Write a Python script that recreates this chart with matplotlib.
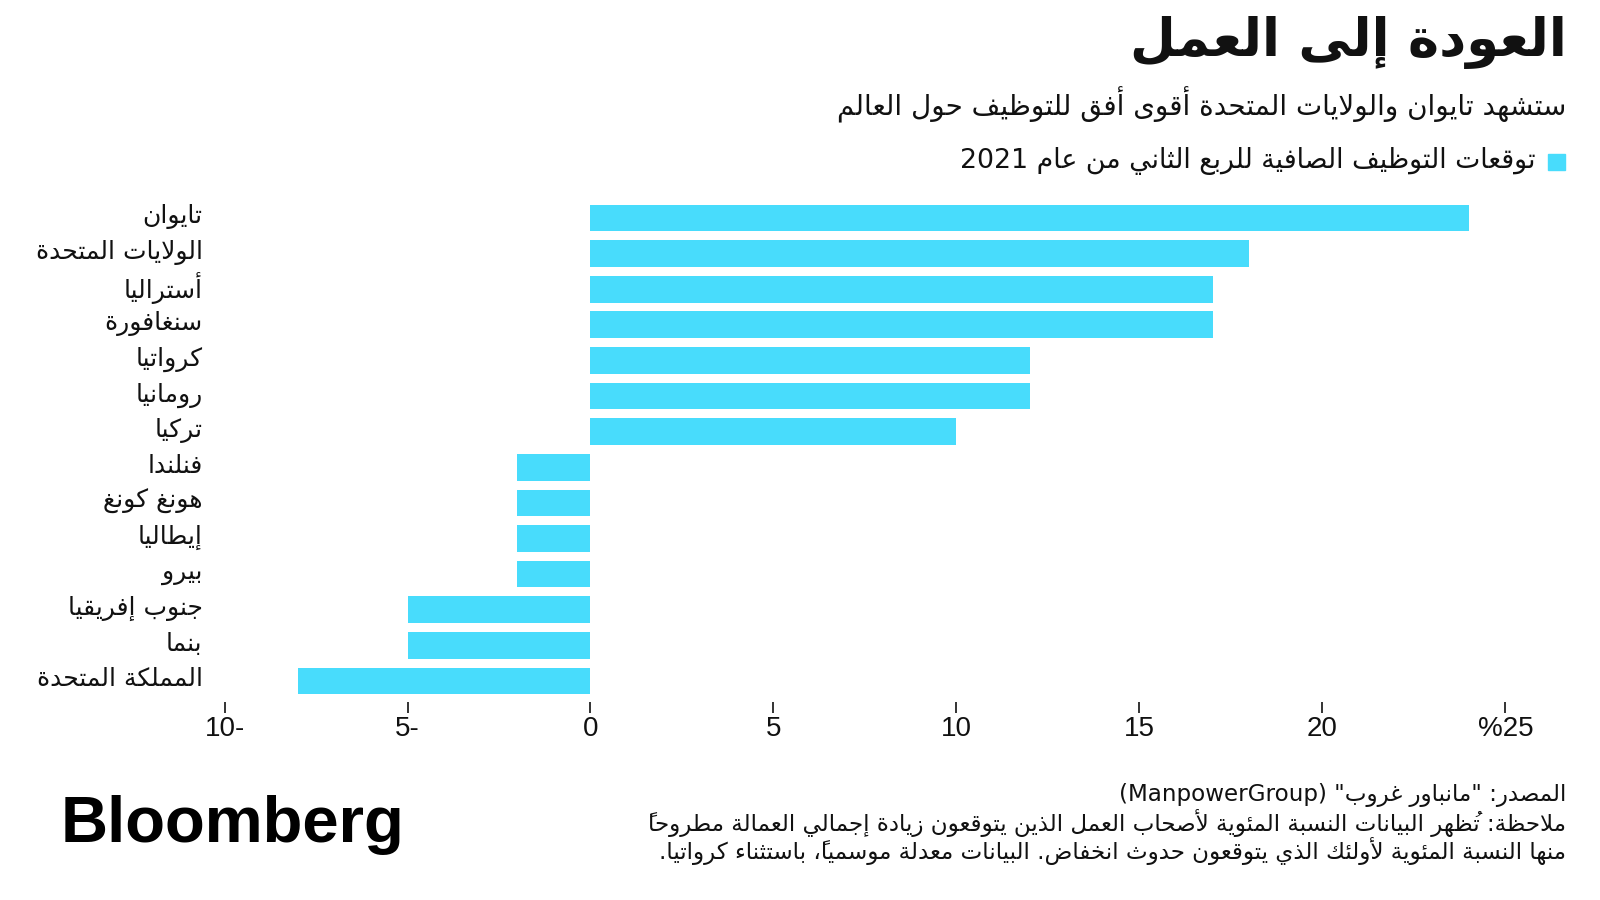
import matplotlib
matplotlib.use('Agg')
import matplotlib.pyplot as plt
import matplotlib.transforms as mtransforms

# Data: net employment outlook Q2 2021 (%)
countries = ['تايوان', 'الولايات المتحدة', 'أستراليا', 'سنغافورة', 'كرواتيا', 'رومانيا', 'تركيا',
             'فنلندا', 'هونغ كونغ', 'إيطاليا', 'بيرو', 'جنوب إفريقيا', 'بنما', 'المملكة المتحدة']
outlook = [24, 18, 17, 17, 12, 12, 10, -2, -2, -2, -2, -5, -5, -8]
x_ticks = [-10, -5, 0, 5, 10, 15, 20, 25]

title = 'العودة إلى العمل'
subtitle = 'ستشهد تايوان والولايات المتحدة أقوى أفق للتوظيف حول العالم'
legend_label = 'توقعات التوظيف الصافية للربع الثاني من عام 2021'
source_lines = ['المصدر: "مانباور غروب" (ManpowerGroup)',
                'ملاحظة: تُظهر البيانات النسبة المئوية لأصحاب العمل الذين يتوقعون زيادة إجمالي العمالة مطروحاً',
                'منها النسبة المئوية لأولئك الذي يتوقعون حدوث انخفاض. البيانات معدلة موسمياً، باستثناء كرواتيا.']

bar_color = '#48DCFC'

# matplotlib has no Arabic shaping, so build presentation forms by hand
# right-joining letters (isolated, final)
R_JOIN = {'آ': 0xFE81, 'أ': 0xFE83, 'ؤ': 0xFE85, 'إ': 0xFE87, 'ا': 0xFE8D, 'ة': 0xFE93,
          'د': 0xFEA9, 'ذ': 0xFEAB, 'ر': 0xFEAD, 'ز': 0xFEAF, 'و': 0xFEED, 'ى': 0xFEEF}
# dual-joining letters (isolated, final, initial, medial)
D_JOIN = {'ئ': 0xFE89, 'ب': 0xFE8F, 'ت': 0xFE95, 'ث': 0xFE99, 'ج': 0xFE9D, 'ح': 0xFEA1,
          'خ': 0xFEA5, 'س': 0xFEB1, 'ش': 0xFEB5, 'ص': 0xFEB9, 'ض': 0xFEBD, 'ط': 0xFEC1,
          'ظ': 0xFEC5, 'ع': 0xFEC9, 'غ': 0xFECD, 'ف': 0xFED1, 'ق': 0xFED5, 'ك': 0xFED9,
          'ل': 0xFEDD, 'م': 0xFEE1, 'ن': 0xFEE5, 'ه': 0xFEE9, 'ي': 0xFEF1}
LAM_ALEF = {'آ': 0xFEF5, 'أ': 0xFEF7, 'إ': 0xFEF9, 'ا': 0xFEFB}
MARKS = set(chr(c) for c in range(0x064B, 0x0653))
MIRROR = {'(': ')', ')': '(', '[': ']', ']': '['}


def joins(ch):
    return ch in R_JOIN or ch in D_JOIN


def arabic(s):
    # step 1: ligate lam-alef, collect (letter, marks) clusters
    clusters = []
    i = 0
    while i < len(s):
        ch = s[i]
        if ch == 'ل' and i + 1 < len(s) and s[i + 1] in LAM_ALEF:
            clusters.append(['LA' + s[i + 1], ''])
            i += 2
            continue
        if ch in MARKS and clusters:
            clusters[-1][1] += ch
        else:
            clusters.append([ch, ''])
        i += 1

    # step 2: pick contextual form
    glyphs = []
    for k, (ch, marks) in enumerate(clusters):
        prev = clusters[k - 1][0] if k > 0 else ''
        nxt = clusters[k + 1][0] if k + 1 < len(clusters) else ''
        prev_links = prev in D_JOIN
        if ch.startswith('LA'):
            g = chr(LAM_ALEF[ch[2]] + (1 if prev_links else 0))
        elif ch in D_JOIN:
            next_links = joins(nxt) or nxt.startswith('LA')
            form = {(False, False): 0, (True, False): 1, (False, True): 2, (True, True): 3}
            g = chr(D_JOIN[ch] + form[(prev_links, next_links)])
        elif ch in R_JOIN:
            g = chr(R_JOIN[ch] + (1 if prev_links else 0))
        else:
            g = ch
        # zero-width marks go before the base so they sit over it once reversed
        glyphs.append((marks + g, ch.isascii() and ch.isalnum()))

    # step 3: visual order, keep latin/digit runs left-to-right
    runs = []
    for g, ltr in glyphs:
        if ltr and runs and runs[-1][1]:
            runs[-1][0] += g
        else:
            runs.append([g, ltr])
    out = ''
    for g, ltr in reversed(runs):
        out += g if ltr else MIRROR.get(g, g)
    return out


plt.rcParams['font.family'] = ['DejaVu Sans']

fig = plt.figure(figsize=(16, 9), dpi=100)
ax = fig.add_axes([0.1266, 0.2196, 0.828, 0.562])

y_pos = list(range(len(countries)))
ax.barh(y_pos, outlook, height=0.75, color=bar_color)
ax.set_ylim(len(countries) - 0.4, -0.6)
ax.set_xlim(-10.6, 25.6)

ax.set_yticks(y_pos)
ax.set_yticklabels([arabic(c) for c in countries], fontsize=18, color='#111111')
ax.tick_params(axis='y', length=0, pad=0)
# labels sit a little above the bar centre in the original
lift = mtransforms.ScaledTranslation(0, 3 / 72, fig.dpi_scale_trans)
for lbl in ax.get_yticklabels():
    lbl.set_verticalalignment('center_baseline')
    lbl.set_transform(lbl.get_transform() + lift)

ax.set_xticks(x_ticks)
tick_text = []
for v in x_ticks:
    if v < 0:
        tick_text.append(str(abs(v)) + '-')
    elif v == 25:
        tick_text.append('%' + str(v))
    else:
        tick_text.append(str(v))
ax.set_xticklabels(tick_text, fontsize=20, family='Liberation Sans', color='#111111')
ax.tick_params(axis='x', length=8, width=1.2, color='#111111', pad=2)

for side in ['top', 'right', 'bottom', 'left']:
    ax.spines[side].set_visible(False)

# Header
fig.text(0.979, 0.953, arabic(title), ha='right', va='center', fontsize=38,
         fontweight='bold', color='#111111')
fig.text(0.979, 0.884, arabic(subtitle), ha='right', va='center', fontsize=20, color='#111111')
fig.patches.append(plt.Rectangle((1548 / 1600, 1 - 170 / 900), 17 / 1600, 16 / 900,
                                 transform=fig.transFigure, color=bar_color))
fig.text(0.96, 0.821, arabic(legend_label), ha='right', va='center', fontsize=19.3, color='#111111')

# Footer
footer_y = [0.117, 0.086, 0.054]
for line, yy in zip(source_lines, footer_y):
    fig.text(0.979, yy, arabic(line), ha='right', va='center', fontsize=16.6, color='#111111')

fig.text(0.038, 0.083, 'Bloomberg', ha='left', va='center', fontsize=47,
         fontweight='bold', family='Liberation Sans', color='black')

fig.savefig('out.png', dpi=100)
